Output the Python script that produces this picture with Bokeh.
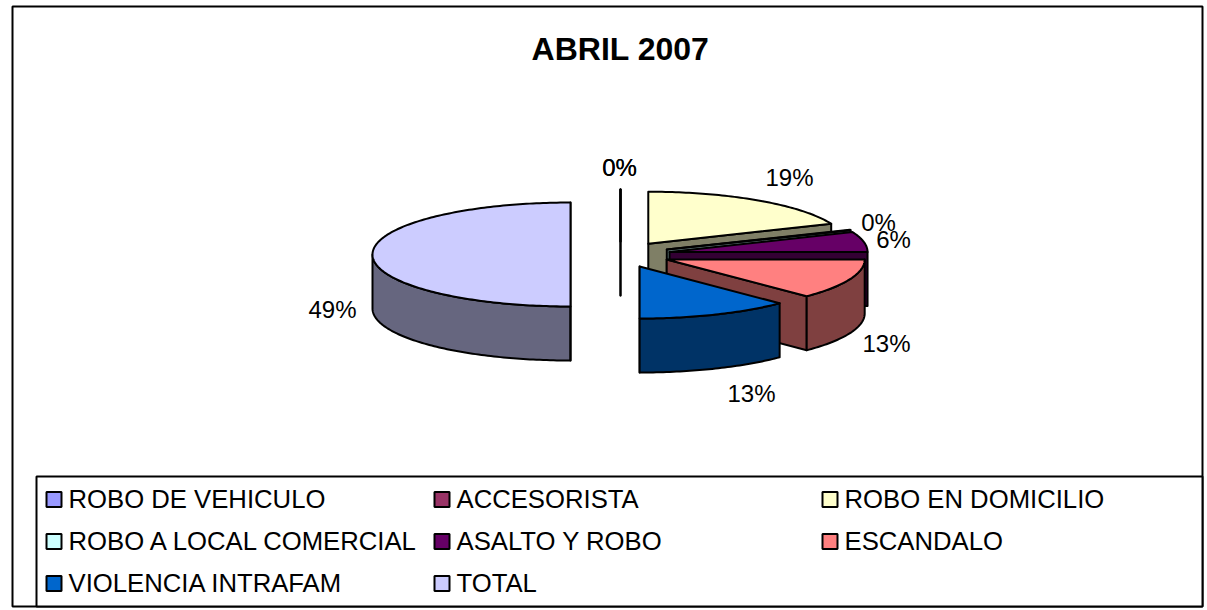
import math
from bokeh.plotting import figure
from bokeh.models import ColumnDataSource, Range1d
from bokeh.core.properties import value
from bokeh.embed import file_html
from bokeh.resources import INLINE

# ---- data
categories = ["ROBO DE VEHICULO", "ACCESORISTA", "ROBO EN DOMICILIO",
              "ROBO A LOCAL COMERCIAL", "ASALTO Y ROBO", "ESCANDALO",
              "VIOLENCIA INTRAFAM", "TOTAL"]
slice_shares = [0.0, 0.0, 18.75, 0.0, 6.25, 12.5, 12.5, 50.0]
pct_labels = ["0%", "0%", "19%", "0%", "6%", "13%", "13%", "49%"]
colors = ["#9999FF", "#993366", "#FFFFCC", "#CCFFFF", "#660066", "#FF8080", "#0066CC", "#CCCCFF"]
title_text = "ABRIL 2007"

# ---- layout
W, H = 1207, 610
CX, CY = 620.0, 254.0     # pie centre before exploding
RX, RY = 198.0, 52.0      # ellipse radii
EX, EY = 50.0, 13.0       # explosion offset radii
DEPTH = 54.0
label_x = [619, 619, 789, 878, 893, 886, 751, 332]
label_y = [167, 167, 177, 222, 239, 343, 393, 309]
legend_col_x = [45, 433, 821]
legend_row_y = [499, 541, 583]
SW = 15
FONT = "Liberation Sans"
LW = 2


def darker(c):
    r, g, b = (int(c[i:i + 2], 16) // 2 for i in (1, 3, 5))
    return f"#{r:02X}{g:02X}{b:02X}"


def pt(cx, cy, deg):
    t = math.radians(deg)
    return cx + RX * math.sin(t), cy - RY * math.cos(t)


p = figure(width=W, height=H, output_backend="svg", toolbar_location=None,
           x_range=Range1d(0, W), y_range=Range1d(H, 0), min_border=0,
           outline_line_color=None, margin=(0, 0, 0, 0))
p.xaxis.visible = False
p.yaxis.visible = False
p.grid.visible = False
p.background_fill_color = "white"
p.border_fill_color = "white"

# chart frame and legend frame
p.quad(left=[12], right=[1202], top=[6], bottom=[606], fill_color="white", line_color="black", line_width=LW)
p.quad(left=[36], right=[1202], top=[476], bottom=[606], fill_color="white", line_color="black", line_width=LW)

total = sum(slice_shares)
start = 0.0
spans = []
for s in slice_shares:
    spans.append((start, start + s / total * 360.0))
    start += s / total * 360.0

# painter's order: the big slice first, then the others clockwise
order = [7, 0, 1, 2, 3, 4, 5, 6]
for i in order:
    a0, a1 = spans[i]
    if i == 3:  # the tiny sliver still has some width in the picture
        a1 = a0 + 0.6
    mid = math.radians((a0 + a1) / 2)
    cx = CX + EX * math.sin(mid)
    cy = CY - EY * math.cos(mid)
    col, dark = colors[i], darker(colors[i])
    n = max(2, int(abs(a1 - a0)) + 2)
    arc = [a0 + (a1 - a0) * k / (n - 1) for k in range(n)]
    rim = [pt(cx, cy, a) for a in arc]
    xs_all, ys_all = [], []
    # end cut face
    if a1 <= 180:
        ex, ey = pt(cx, cy, a1)
        xs_all.append([cx, ex, ex, cx]); ys_all.append([cy, ey, ey + DEPTH, cy + DEPTH])
    # outer rim, front half only
    lo, hi = max(a0, 90.0), min(a1, 270.0)
    if hi > lo:
        m = int(hi - lo) + 2
        front = [pt(cx, cy, lo + (hi - lo) * k / (m - 1)) for k in range(m)]
        xs_all.append([q[0] for q in front] + [q[0] for q in reversed(front)])
        ys_all.append([q[1] for q in front] + [q[1] + DEPTH for q in reversed(front)])
    if a1 >= 360:  # closing cut, seen edge-on
        xs_all.append([cx, cx]); ys_all.append([cy - RY, cy + RY + DEPTH])
    p.patches(xs=xs_all, ys=ys_all, fill_color=dark, line_color="black", line_width=LW, line_join="round")
    p.patch(x=[cx] + [q[0] for q in rim], y=[cy] + [q[1] for q in rim],
            fill_color=col, line_color="black", line_width=LW, line_join="round")

# data labels
src = ColumnDataSource(dict(x=label_x, y=label_y, t=pct_labels))
p.text(x="x", y="y", text="t", source=src, text_font=value(FONT), text_font_size="24px",
       text_align="center", text_baseline="middle", text_color="black")

# title
p.text(x=[620], y=[48], text=[title_text], text_font=value(FONT), text_font_size="32px",
       text_font_style="bold", text_align="center", text_baseline="middle", text_color="black")

# legend, three columns filled row by row
lx, ly, lc, lt = [], [], [], []
for k, name in enumerate(categories):
    r, c = k // 3, k % 3
    lx.append(legend_col_x[c]); ly.append(legend_row_y[r]); lc.append(colors[k]); lt.append(name)
ls = ColumnDataSource(dict(l=[x + 1 for x in lx], r=[x + 1 + SW for x in lx],
                           t=[y - SW / 2 for y in ly], b=[y + SW / 2 for y in ly],
                           c=lc, tx=[x + 23 for x in lx], y=[y - 1 for y in ly], s=lt))
p.quad(left="l", right="r", top="t", bottom="b", fill_color="c", line_color="black", line_width=LW, source=ls)
p.text(x="tx", y="y", text="s", source=ls, text_font=value(FONT), text_font_size="25.7px",
       text_align="left", text_baseline="middle", text_color="black")

open("out.html", "w").write(file_html(p, INLINE))
